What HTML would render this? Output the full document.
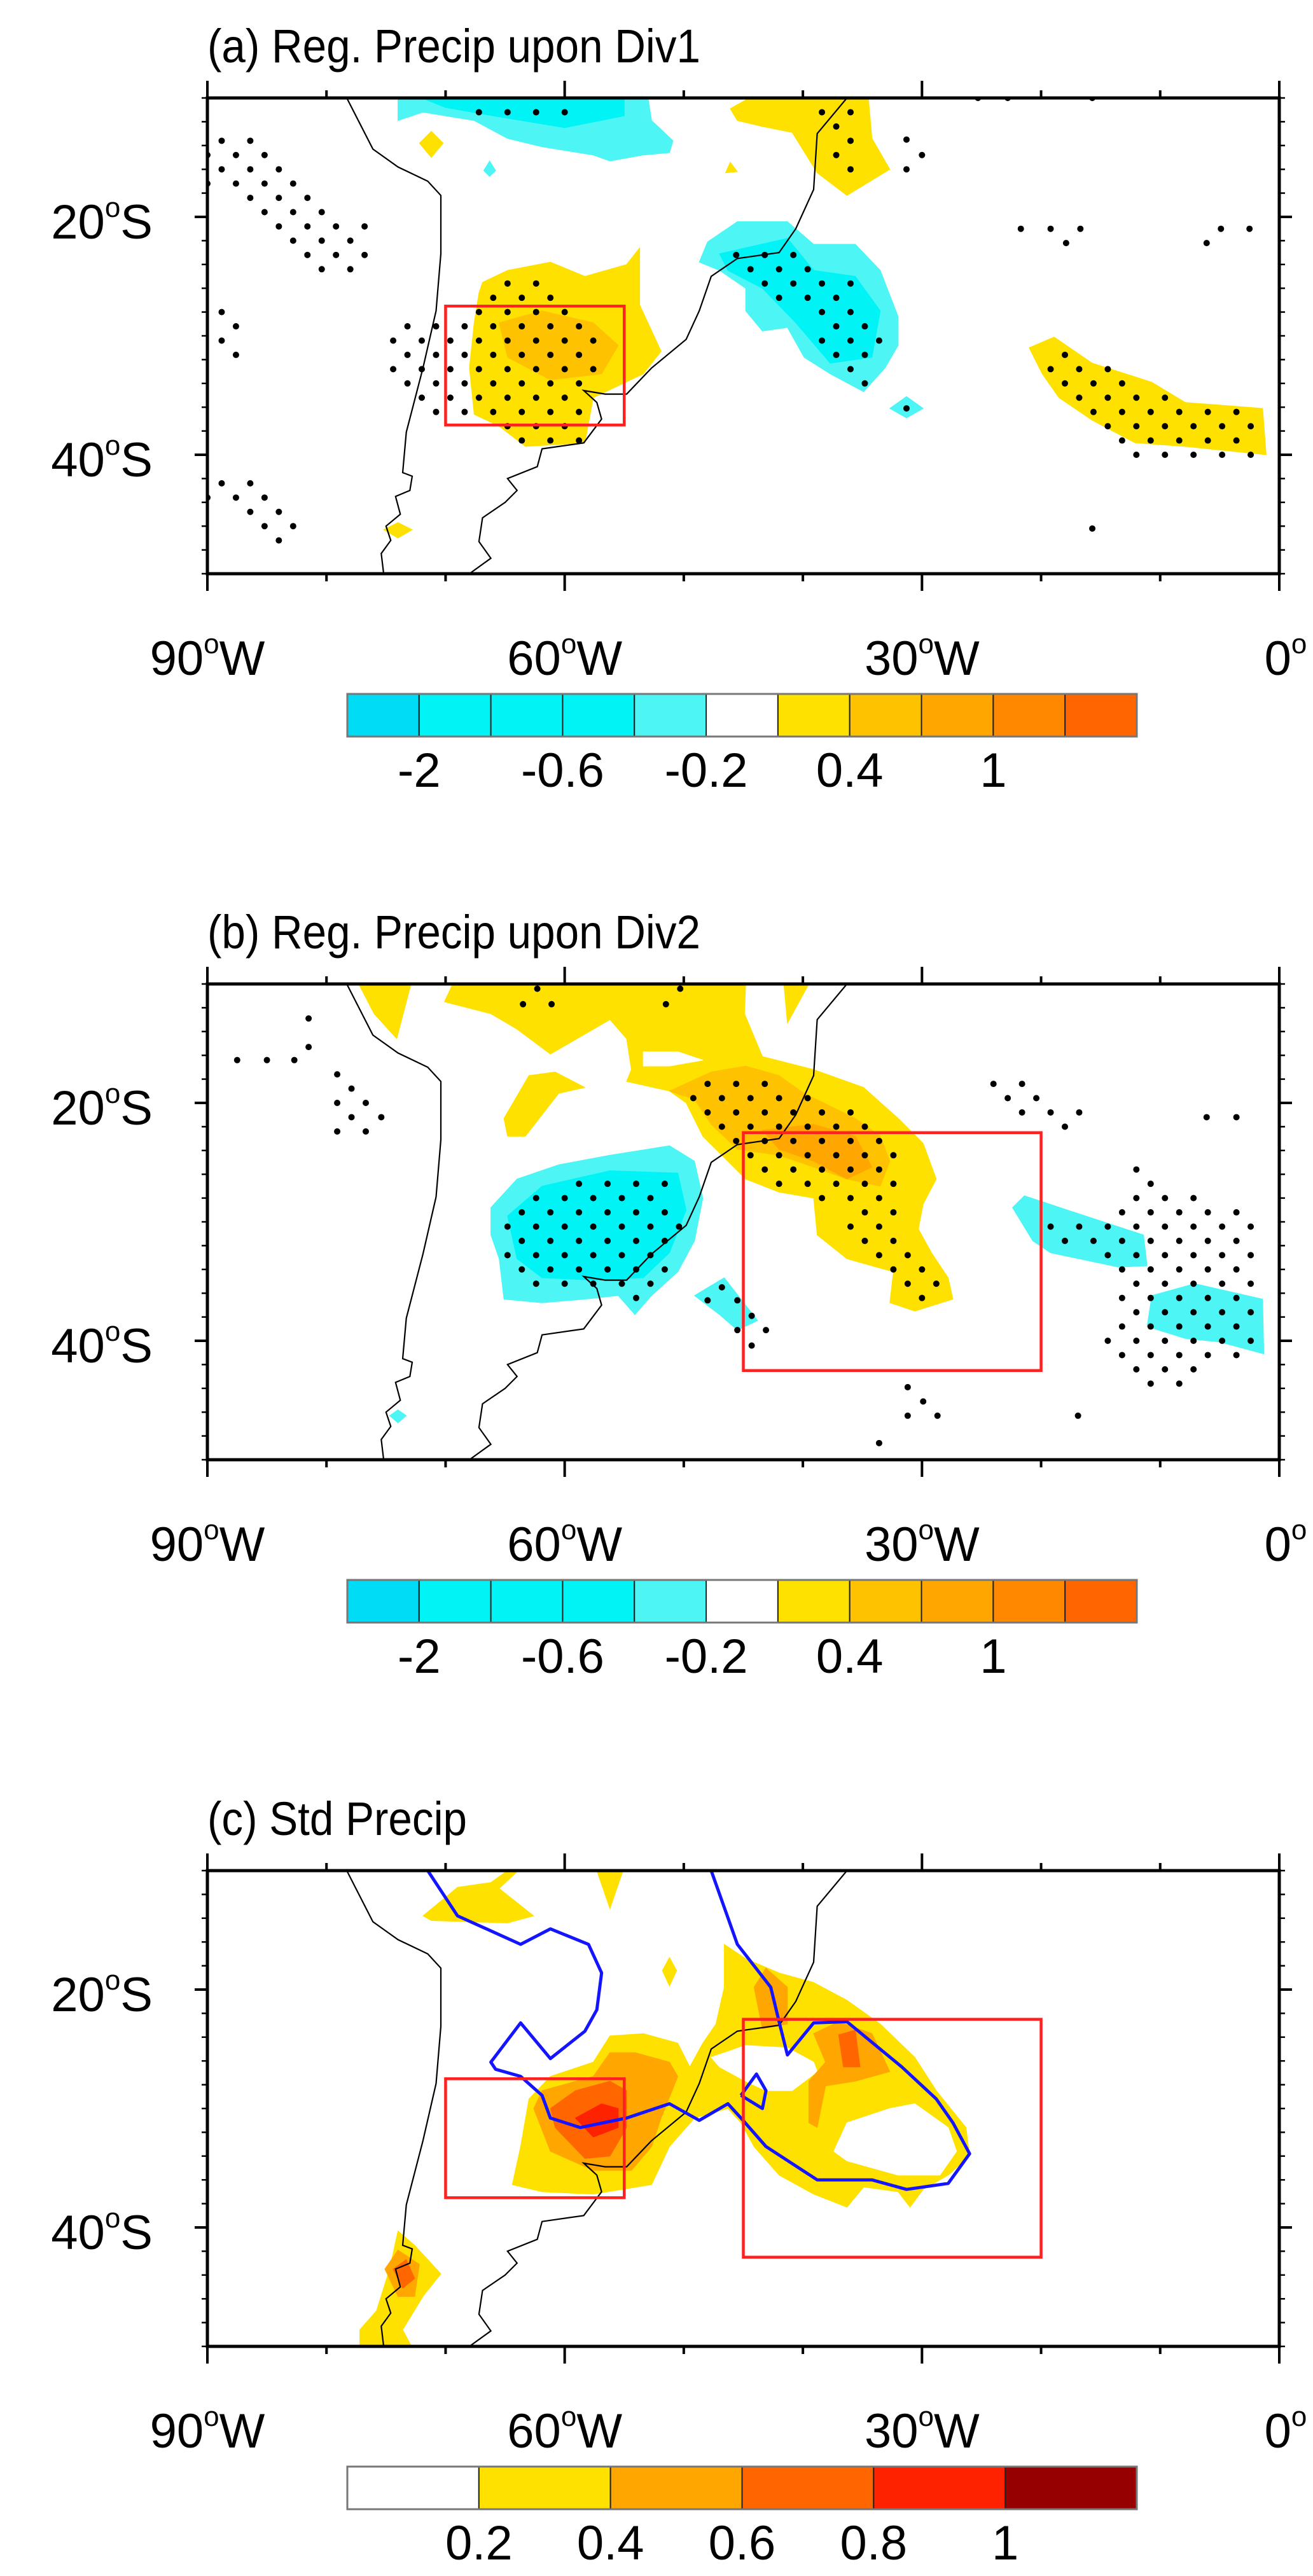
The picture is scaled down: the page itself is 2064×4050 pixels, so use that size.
<!DOCTYPE html>
<html><head><meta charset="utf-8"><title>Regressed precipitation</title>
<style>html,body{margin:0;padding:0;background:#fff}svg{display:block}text{font-family:"Liberation Sans",Arial,sans-serif;fill:#000}</style>
</head><body>
<svg id="fig" xmlns="http://www.w3.org/2000/svg" width="2064" height="4050" viewBox="0 0 2064 4050"></svg>
<script>
// ---------- data (lon, lat) ----------
const panelTitles = ["(a) Reg. Precip upon Div1","(b) Reg. Precip upon Div2","(c) Std Precip"];
const xTickLons = [-90,-60,-30,0];
const xTickLabels = ["90","60","30","0"];
const xTickSuffix = ["W","W","W",""];
const yTickLats = [-20,-40];
const yTickLabels = ["20","40"];
const cbColorsAB = ["#00dcf5","#00f3f5","#00f3f5","#00f3f5","#4df5f5","#ffffff","#ffe100","#ffc200","#ffa600","#ff8800","#ff6600"];
const cbLabelsAB = ["-2","-0.6","-0.2","0.4","1"];
const cbLabelIdxAB = [1,3,5,7,9];
const cbColorsC = ["#ffffff","#ffe100","#ffa600","#ff6600","#ff2200","#960000"];
const cbLabelsC = ["0.2","0.4","0.6","0.8","1"];
const cbLabelIdxC = [1,2,3,4,5];

const coastWest = [[-78.3,-10],[-76.1,-14.3],[-74,-15.8],[-71.5,-17],[-70.4,-18.2],[-70.4,-23.1],[-70.8,-27.9],[-71.9,-32.7],[-73.3,-38.1],[-73.6,-41.5],[-72.8,-41.8],[-73,-43],[-74.2,-43.5],[-73.8,-45],[-75,-46],[-74.6,-47.2],[-75.4,-48.3],[-75.2,-50]];
const coastEast = [[-36.3,-10],[-38.8,-13],[-39.1,-17.7],[-40.6,-21],[-42,-23],[-45.5,-23.5],[-47.7,-25],[-48.7,-27.9],[-49.8,-30.3],[-52.7,-32.7],[-54.8,-34.9],[-56.6,-34.9],[-58.4,-34.6],[-57.3,-35.6],[-56.9,-37],[-58.4,-39],[-61.9,-39.5],[-62.3,-41],[-64.8,-42],[-64,-43],[-65,-44],[-66.9,-45.3],[-67.2,-47.3],[-66.2,-48.7],[-68,-50]];

const boxDiv1 = [-70,-27.5,-55,-37.5];
const boxDiv2 = [-45,-22.5,-20,-42.5];

// panel a fills
const fillsA = [
 ["#4df5f5",[[-74,-10],[-53,-10],[-52.7,-11.9],[-50.9,-13.6],[-51.2,-14.6],[-53.4,-14.8],[-56.2,-15.3],[-57.6,-14.8],[-61.9,-14.1],[-64.8,-13.4],[-67.6,-11.9],[-71.9,-11.2],[-74,-11.9]]],
 ["#00f3f5",[[-72,-10],[-55,-10],[-55,-11.5],[-60,-12.5],[-66,-11.5],[-70,-10.8]]],
 ["#ffe100",[[-71.2,-12.8],[-70.2,-13.8],[-71.2,-15],[-72.2,-13.8]]],
 ["#4df5f5",[[-66.3,-15.3],[-65.8,-16.1],[-66.3,-16.6],[-66.8,-16.1]]],
 ["#ffe100",[[-46.1,-15.4],[-45.5,-16.2],[-46.5,-16.3]]],
 ["#ffe100",[[-46.1,-10.9],[-44.5,-10],[-34.5,-10],[-34.2,-13.4],[-32.7,-16],[-36.3,-18.2],[-38.8,-16.3],[-40.9,-12.9],[-43.4,-12.4],[-45.5,-11.9]]],
 ["#ffe100",[[-66.9,-25.5],[-64.8,-24.5],[-61.2,-23.8],[-58.3,-25],[-54.8,-24],[-53.7,-22.6],[-53.7,-27.4],[-51.9,-31.3],[-53.4,-33.2],[-55.5,-34.2],[-57.6,-35.2],[-58.3,-39],[-63.3,-39.3],[-65.5,-37.6],[-67.6,-36.6],[-68,-32.7],[-67.6,-28.9],[-67.2,-26.4]]],
 ["#ffc200",[[-61.9,-27.9],[-57.6,-28.9],[-55.5,-30.8],[-56.9,-33.2],[-61.2,-33.7],[-64.8,-31.8],[-65.5,-28.9]]],
 ["#4df5f5",[[-48,-22.1],[-45.5,-20.4],[-41.3,-20.4],[-39.1,-22.3],[-35.6,-22.3],[-33.5,-24.5],[-32,-28.4],[-32,-30.8],[-33.1,-32.7],[-34.9,-34.7],[-37.7,-33.2],[-39.9,-31.8],[-41.3,-29.3],[-43.4,-29.6],[-44.8,-27.9],[-44.8,-26],[-47,-24.5],[-48.7,-23.8]]],
 ["#00f3f5",[[-47,-23.1],[-41.3,-21.8],[-39.1,-24.5],[-35.6,-25],[-33.5,-27.9],[-34.2,-31.8],[-37.7,-32.3],[-40.6,-28.9],[-43.4,-26],[-46.3,-24.5]]],
 ["#4df5f5",[[-31.3,-35.1],[-29.9,-36.1],[-31.3,-36.9],[-32.7,-36.1]]],
 ["#ffe100",[[-21,-31],[-18.9,-30.1],[-15.7,-32.3],[-10.7,-33.9],[-7.9,-35.6],[-1.4,-36.1],[-1.1,-40],[-7.9,-39.3],[-12.1,-39],[-15.7,-37.1],[-18.5,-35.2],[-19.9,-33.2]]],
 ["#ffe100",[[-74,-45.7],[-72.8,-46.3],[-74,-47],[-75.2,-46.3]]]
];
const stipRegA = [
 [[-90.5,-13.2],[-85.5,-13.2],[-82,-16.5],[-78,-20],[-75.8,-20.3],[-75.8,-22.5],[-78.5,-25],[-80.5,-25],[-85,-21],[-90.5,-17]],
 [[-89.5,-27.3],[-87,-27.3],[-87,-31.6],[-89.5,-31.6]],
 [[-75,-29],[-70,-28.5],[-67,-25.5],[-65,-24.5],[-61,-24.8],[-59,-27],[-57.5,-28.5],[-57,-33],[-58,-35.5],[-58.5,-39.4],[-63.5,-39.4],[-66,-37.3],[-71.5,-37.3],[-75,-33]],
 [[-46,-22.7],[-42.5,-22.2],[-40,-23.5],[-36,-25.5],[-34.2,-27.5],[-33,-30.5],[-34.2,-34.5],[-36,-34.5],[-38.5,-30.5],[-41,-27.5],[-44,-25.5],[-46.3,-24.5]],
 [[-19.5,-30.8],[-15,-31.8],[-12.3,-33.5],[-8.5,-35.5],[-1.8,-35.5],[-1.8,-40.5],[-8,-40.5],[-12,-40.5],[-16,-37],[-19.5,-34.5]],
 [[-90.5,-41.2],[-86.3,-41.2],[-82.5,-45.5],[-83,-47.6],[-85,-47],[-90.5,-43.5]],
 [[-68,-10],[-59,-10],[-59,-11.8],[-68,-11.8]],
 [[-38.5,-10],[-35,-10],[-35,-17],[-36.5,-17],[-38.5,-12]]
];
const dotsA = [[-31.3,-13.5],[-30,-14.8],[-31.3,-16],[-25.3,-10],[-22.8,-10],[-15.7,-10],[-21.7,-21],[-19.2,-21],[-17.9,-22.2],[-16.7,-21],[-6.1,-22.2],[-4.9,-21],[-2.5,-21],[-31.3,-36.1],[-15.7,-46.2]];

// panel b fills
const fillsB = [
 ["#ffe100",[[-77.3,-10],[-72.9,-10],[-74.1,-14.6],[-76,-12.5]]],
 ["#ffe100",[[-70.1,-11.5],[-69.4,-10],[-44.8,-10],[-44.9,-12.5],[-43.4,-16.1],[-39.1,-17.2],[-34.9,-18.7],[-32,-21.3],[-29.9,-23.4],[-28.8,-26.4],[-29.9,-28.5],[-30.3,-30.6],[-29.2,-32.6],[-27.8,-34.7],[-27.4,-36.5],[-30.6,-37.5],[-32.7,-36.8],[-32.4,-34.2],[-34.2,-33.7],[-36.3,-33.1],[-38.8,-31.1],[-39.1,-28],[-42,-27.5],[-44.8,-26.4],[-46.3,-24.9],[-48.4,-22.8],[-49.8,-20],[-51.2,-19],[-54.8,-18.2],[-54.4,-17.2],[-54.8,-14.6],[-56.2,-13],[-61.2,-15.9],[-64,-13.8],[-66.2,-12.5]]],
 ["#ffe100",[[-41.6,-10],[-39.5,-10],[-41.3,-13.3]]],
 ["#ffffff",[[-53.4,-15.7],[-50.5,-15.7],[-48.4,-16.4],[-51.2,-16.9],[-53.4,-16.9]]],
 ["#ffe100",[[-64.8,-22.8],[-65.1,-21.3],[-63,-17.7],[-60.8,-17.4],[-58.3,-18.7],[-60.5,-19.2],[-63.3,-22.8]]],
 ["#ffc200",[[-51.2,-19],[-47.7,-17.4],[-44.8,-16.9],[-42,-17.7],[-39.9,-19.2],[-35.6,-21.3],[-33.5,-22.8],[-32.7,-24.9],[-33.5,-27],[-36.3,-26.4],[-39.1,-25.4],[-42,-24.4],[-45.5,-23.9],[-47.7,-21.8],[-49.1,-19.7]]],
 ["#ffa600",[[-43.4,-22.3],[-39.1,-21.8],[-35.6,-22.8],[-34.2,-25.4],[-36.3,-26.4],[-39.1,-24.9],[-42,-23.9]]],
 ["#4df5f5",[[-66.2,-28.8],[-64,-26.4],[-60.5,-25.2],[-56.2,-24.4],[-51.2,-23.6],[-49.1,-24.9],[-48.4,-28],[-49.1,-31.6],[-50.5,-34.2],[-52.7,-36.2],[-54.1,-37.8],[-55.5,-36.2],[-58.3,-36.5],[-61.9,-36.8],[-65.1,-36.5],[-65.5,-33.1],[-66.2,-31.1]]],
 ["#00f3f5",[[-64.8,-29.5],[-61.9,-27],[-56.2,-25.7],[-50.5,-25.9],[-49.8,-29],[-51.2,-32.6],[-53.4,-34.7],[-57.6,-34.9],[-61.9,-34.7],[-64,-33.1]]],
 ["#4df5f5",[[-49.1,-36.2],[-46.6,-34.7],[-43.8,-38.3],[-45.5,-39.1],[-47,-37.8]]],
 ["#4df5f5",[[-22.4,-28.8],[-21.4,-27.8],[-17.8,-29],[-11.4,-31.1],[-11.1,-33.7],[-13.5,-33.8],[-19.2,-32.6],[-20.7,-31.6]]],
 ["#4df5f5",[[-10.7,-36.2],[-7.1,-35.2],[-1.4,-36.5],[-1.3,-41.1],[-5,-40.1],[-7.9,-39.8],[-11.1,-38.8]]],
 ["#4df5f5",[[-74,-45.8],[-73.3,-46.3],[-74,-46.9],[-74.7,-46.3]]]
];
const stipRegB = [
 [[-49.5,-18.8],[-45.5,-17.5],[-35.9,-20],[-33.5,-22.3],[-32,-23.9],[-32.4,-27.5],[-31,-31.9],[-28.5,-34.4],[-28.5,-36.9],[-31.3,-36.9],[-32.7,-35.2],[-35.9,-32.1],[-37,-28.5],[-40.6,-27.5],[-44.8,-26.2],[-46.6,-23.6],[-49.5,-21.3]],
 [[-65.8,-30.7],[-64.8,-29.5],[-62.3,-27.2],[-56.2,-25.9],[-51.2,-25.9],[-50.2,-30],[-51.2,-33.1],[-52.7,-36.8],[-53.9,-37.9],[-57.6,-35.2],[-63.3,-35.7],[-64.8,-34.2]],
 [[-24.2,-17.6],[-21.4,-17.6],[-15.3,-21.2],[-16.7,-22.6],[-19.2,-22.6],[-24.2,-20]],
 [[-12.1,-24.4],[-9.3,-27],[-2.3,-29],[-2.2,-41.9],[-5,-41.9],[-9.6,-44.2],[-14.6,-41.9],[-14.6,-38.8],[-13.2,-35.2],[-14.9,-33.1],[-19.2,-32.4],[-19.6,-29.5],[-13.5,-29.3],[-12.5,-26.4]]
];
const dotsB = [[-87.5,-16.4],[-85,-16.4],[-82.7,-16.4],[-81.5,-12.9],[-81.5,-15.3],[-79.1,-17.6],[-77.9,-18.8],[-79.1,-20],[-76.7,-20],[-77.9,-21.2],[-75.4,-21.2],[-79.1,-22.4],[-76.7,-22.4],
 [-62.3,-10.4],[-63.5,-11.7],[-61.1,-11.7],[-50.3,-10.4],[-51.5,-11.7],
 [-46.8,-35.5],[-48,-36.6],[-45.5,-36.6],[-44.3,-37.9],[-45.5,-39.1],[-43.1,-39.1],[-44.3,-40.4],
 [-6.1,-21.2],[-3.6,-21.2],[-31.2,-43.9],[-29.9,-45.1],[-31.2,-46.3],[-28.7,-46.3],[-33.6,-48.6],[-16.9,-46.3]];

// panel c fills
const fillsC = [
 ["#ffe100",[[-71.9,-13.8],[-69,-11.4],[-66.2,-11],[-64.8,-10],[-63.9,-10],[-65.5,-11.5],[-62.6,-13.8],[-64.8,-14.4],[-71.2,-14.2]]],
 ["#ffe100",[[-57.3,-10],[-55.1,-10],[-56.2,-13.2]]],
 ["#ffe100",[[-51.2,-17.3],[-50.6,-18.4],[-51.2,-19.7],[-51.8,-18.4]]],
 ["#ffe100",[[-64.4,-36.4],[-63.7,-33.2],[-63,-29.2],[-61.2,-27.3],[-57.6,-26.1],[-56.2,-23.9],[-53.4,-23.7],[-50.5,-24.5],[-49.5,-26.5],[-48.4,-24.5],[-47.3,-22.9],[-46.6,-19.8],[-46.6,-16.2],[-44.8,-17.4],[-42,-18.6],[-39.1,-19.4],[-36.3,-20.9],[-33.5,-22.9],[-30.6,-25.7],[-28.8,-28.5],[-26.3,-31.6],[-26,-34],[-27.8,-35.6],[-29.9,-36.8],[-31,-38.3],[-32,-37],[-34.9,-36.6],[-36.3,-38.3],[-39.1,-37.2],[-42,-35.6],[-44.1,-33.2],[-45.2,-31.2],[-46.3,-30],[-49.1,-30.8],[-51.2,-33.2],[-52.7,-36.4],[-57.6,-37.2],[-61.9,-37]]],
 ["#ffffff",[[-47.7,-25.7],[-44.8,-24.7],[-41.3,-24.9],[-39.1,-26.1],[-38.8,-26.9],[-40.9,-28.5],[-43.1,-28.5],[-44.8,-27.7],[-47,-26.5]]],
 ["#ffffff",[[-37.4,-33.6],[-36.3,-31.2],[-32.7,-30],[-30.6,-29.6],[-27.8,-31.6],[-27.1,-33.6],[-28.5,-35.6],[-32,-35.6],[-36.3,-34.4]]],
 ["#ffa600",[[-62.6,-30],[-61.9,-28.5],[-57.6,-27.3],[-56.2,-25.3],[-54.1,-25.3],[-51.2,-26.1],[-50.5,-27.3],[-51.9,-30.8],[-52.7,-33.2],[-54.4,-35.2],[-57.6,-35.2],[-61.2,-33.6]]],
 ["#ffa600",[[-44.1,-19.8],[-43.1,-18.2],[-41.3,-19.8],[-41.3,-22.9],[-43.4,-23.3]]],
 ["#ffa600",[[-39.1,-23.7],[-37,-22.7],[-34.2,-23.7],[-32.7,-26.9],[-35.6,-27.7],[-38.1,-28.1],[-38.8,-31.6],[-39.5,-31.2],[-39.5,-27.7],[-38.1,-26.1]]],
 ["#ff6600",[[-61.2,-30],[-59.1,-28.5],[-56.2,-27.7],[-54.8,-28.5],[-54.8,-31.6],[-56.2,-34],[-58.3,-34.2],[-60.8,-31.6]]],
 ["#ff6600",[[-37,-23.8],[-35.6,-23.4],[-35.2,-26.5],[-36.6,-26.5]]],
 ["#ff2200",[[-59.1,-30.8],[-56.9,-29.6],[-55.5,-30],[-55.5,-31.6],[-57.6,-32.4]]],
 ["#ffe100",[[-77.2,-50.5],[-77.2,-48.6],[-75.8,-47],[-74.7,-43.5],[-74,-40.3],[-72.6,-41.5],[-70.4,-43.9],[-71.9,-45.8],[-73.6,-48.6],[-72.6,-50.5]]],
 ["#ffa600",[[-75.1,-43.5],[-74,-41.9],[-72.2,-43.1],[-72.6,-45.8],[-74,-45.8]]],
 ["#ff6600",[[-74.4,-43.5],[-73.3,-42.7],[-72.6,-44.3],[-73.6,-45.1]]]
];
const blueLine = [[-71.5,-10],[-69,-13.8],[-63.7,-16.2],[-61.2,-14.9],[-58,-16.2],[-56.9,-18.6],[-57.3,-21.7],[-58.3,-23.5],[-61.2,-25.8],[-63.7,-22.8],[-66.2,-26.1],[-65.8,-26.7],[-63.7,-27.3],[-61.9,-28.9],[-61.2,-30.8],[-58.7,-31.6],[-54.8,-30.8],[-51.2,-29.6],[-48.7,-31],[-46.3,-29.6],[-45.2,-30.8],[-43.1,-33.2],[-38.8,-36],[-34.2,-36],[-31.3,-36.8],[-27.8,-36.3],[-26,-33.8],[-27.4,-31.2],[-28.8,-29.2],[-31.7,-26.5],[-36.3,-22.7],[-39.1,-22.8],[-41.3,-25.5],[-42,-22.7],[-42.7,-19.8],[-45.5,-16.2],[-47.7,-10]];
const blueLoop = [[-45.2,-28.9],[-43.9,-27.1],[-43.1,-28.5],[-43.4,-30],[-45.2,-28.9]];

// ---------- drawing ----------
const NS = "http://www.w3.org/2000/svg";
const svg = document.getElementById("fig");
const offs = [0,1393,2787];
const L = 326, R = 2011, T = 154, B = 902;
function X(lon){ return L + (lon + 90) * (R - L) / 90; }
function Y(lat, p){ return offs[p] + T + (-10 - lat) * (B - T) / 40; }
function mk(tag, attrs, parent){ const e = document.createElementNS(NS, tag); for (const k in attrs) e.setAttribute(k, attrs[k]); (parent || svg).appendChild(e); return e; }
function ptsStr(arr, p){ return arr.map(q => X(q[0]).toFixed(1) + "," + Y(q[1], p).toFixed(1)).join(" "); }
function inPoly(x, y, poly){ let c = false; for (let i = 0, j = poly.length - 1; i < poly.length; j = i++){ const xi = poly[i][0], yi = poly[i][1], xj = poly[j][0], yj = poly[j][1]; if (((yi > y) != (yj > y)) && (x < (xj - xi) * (y - yi) / (yj - yi) + xi)) c = !c; } return c; }

function degText(parent, x, y, num, suf, anchor, name){
  const t = mk("text", {x: x, y: y, "font-size": 76, "text-anchor": anchor}, parent);
  
  
  t.appendChild(document.createTextNode(num));
  const s = mk("tspan", {"font-size": 44, dy: -34}, t); s.textContent = "o";
  const s2 = mk("tspan", {dy: 34}, t); s2.textContent = suf;
  return t;
}

const allFills = [fillsA, fillsB, fillsC];
const allStip = [stipRegA, stipRegB, []];
const allDots = [dotsA, dotsB, []];
const allBoxes = [[boxDiv1],[boxDiv2],[boxDiv1, boxDiv2]];
const names = ["a","b","c"];

for (let p = 0; p < 3; p++){
  const g = mk("g", {});
  
  
  const title = mk("text", {x: 326, y: offs[p] + 98, "font-size": 74}, g);
  
  
  title.textContent = panelTitles[p];
  const w = title.getComputedTextLength();
  title.setAttribute('textLength', (w * 0.91).toFixed(0));
  title.setAttribute('lengthAdjust', 'spacingAndGlyphs');

  const cp = mk("clipPath", {id: "clip" + p}, g);
  mk("rect", {x: L, y: offs[p] + T, width: R - L, height: B - T}, cp);
  const map = mk("g", {"clip-path": "url(#clip" + p + ")"}, g);
  
  

  allFills[p].forEach((f, i) => {
    const e = mk("polygon", {points: ptsStr(f[1], p), fill: f[0], stroke: f[0], "stroke-width": 1}, map);
    
    
  });
  const regs = allStip[p];
  for (let k = 0; k <= 76; k++) for (let j = 0; j <= 34; j++){
    if ((k + j) % 2) continue;
    const lon = -90 + k * 1.2, lat = -10 - j * 1.2;
    if (regs.some(r => inPoly(lon, lat, r))){
      const d = mk("circle", {cx: X(lon), cy: Y(lat, p), r: 5, fill: "#000"}, map);
      
      
    }
  }
  allDots[p].forEach(q => {
    const d = mk("circle", {cx: X(q[0]), cy: Y(q[1], p), r: 5, fill: "#000"}, map);
    
    
  });
  [coastWest, coastEast].forEach(c => {
    const e = mk("polyline", {points: ptsStr(c, p), fill: "none", stroke: "#000", "stroke-width": 2.2}, map);
    
    
  });
  if (p === 2){
    [blueLine, blueLoop].forEach(c => {
      const e = mk("polyline", {points: ptsStr(c, p), fill: "none", stroke: "#1414ff", "stroke-width": 5, "stroke-linejoin": "round"}, map);
      
      
    });
  }
  allBoxes[p].forEach(b => {
    const e = mk("rect", {x: X(b[0]), y: Y(b[1], p), width: X(b[2]) - X(b[0]), height: Y(b[3], p) - Y(b[1], p), fill: "none", stroke: "#ff2020", "stroke-width": 4.5}, g);
    
    
  });
  const fr = mk("rect", {x: L, y: offs[p] + T, width: R - L, height: B - T, fill: "none", stroke: "#000", "stroke-width": 5}, g);
  
  
  for (let lon = -90; lon <= 0; lon += 10){
    const major = (lon % 30 === 0), len = major ? 27 : 12;
    [[offs[p] + T, -1], [offs[p] + B, 1]].forEach(s => {
      const t = mk("line", {x1: X(lon), x2: X(lon), y1: s[0], y2: s[0] + s[1] * len, stroke: "#000", "stroke-width": 4}, g);
      
      
    });
  }
  for (let lat = -10; lat >= -50; lat -= 2){
    const major = (lat === -20 || lat === -40), len = major ? 20 : 9;
    [[L, -1], [R, 1]].forEach(s => {
      const t = mk("line", {x1: s[0], x2: s[0] + s[1] * len, y1: Y(lat, p), y2: Y(lat, p), stroke: "#000", "stroke-width": major ? 4 : 2.5}, g);
      
      
    });
  }
  yTickLats.forEach((lat, i) => degText(g, 240, Y(lat, p) + 34, yTickLabels[i], "S", "end", 'y-tick-label'));
  xTickLons.forEach((lon, i) => degText(g, X(lon) + (i === 3 ? 10 : 0), offs[p] + 1061, xTickLabels[i], xTickSuffix[i], "middle", 'x-tick-label'));

  const cols = p < 2 ? cbColorsAB : cbColorsC;
  const labs = p < 2 ? cbLabelsAB : cbLabelsC;
  const lidx = p < 2 ? cbLabelIdxAB : cbLabelIdxC;
  const cb = mk("g", {}, g);
  
  
  const cx0 = 546, cx1 = 1787, cy0 = offs[p] + 1091, ch = 67, bw = (cx1 - cx0) / cols.length;
  cols.forEach((c, i) => {
    const r = mk("rect", {x: cx0 + i * bw, y: cy0, width: bw, height: ch, fill: c, stroke: "#222", "stroke-width": 2}, cb);
    
    
  });
  const ob = mk("rect", {x: cx0, y: cy0, width: cx1 - cx0, height: ch, fill: "none", stroke: "#777", "stroke-width": 3}, cb);
  
  
  labs.forEach((s, i) => {
    const t = mk("text", {x: cx0 + lidx[i] * bw, y: offs[p] + 1237, "font-size": 76, "text-anchor": "middle"}, cb);
    
    
    t.textContent = s;
  });
}
</script>
</body></html>
